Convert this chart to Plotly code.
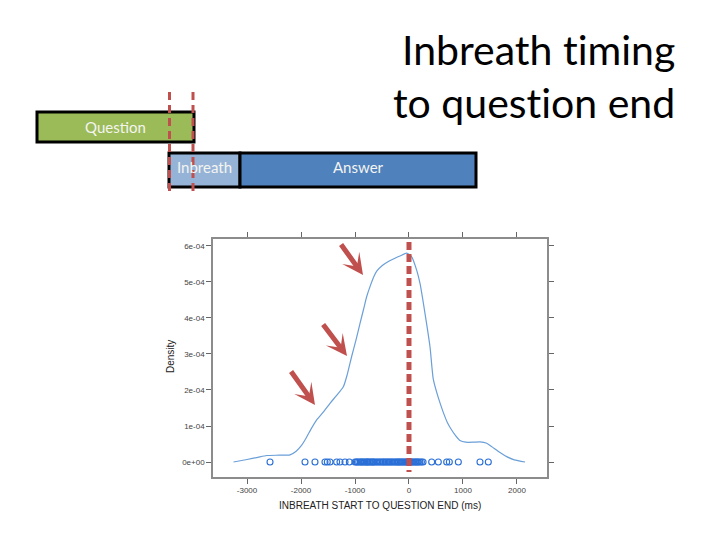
import plotly.graph_objects as go

# ---------------- data ----------------
density_x = [-3250, -3000, -2800, -2635, -2400, -2204, -2090, -1987, -1926, -1820,
             -1710, -1580, -1463, -1340, -1216, -1140, -1062, -980, -907, -840,
             -784, -722, -650, -598, -500, -413, -300, -167, -43, 50,
             142, 204, 296, 389, 450, 540, 630, 710, 790, 870,
             944, 1050, 1200, 1315, 1440, 1540, 1650, 1810, 1950, 2150]
density_y = [0.0, 0.07, 0.13, 0.18, 0.19, 0.20, 0.30, 0.47, 0.61, 0.90,
             1.17, 1.40, 1.63, 1.85, 2.09, 2.45, 2.93, 3.40, 3.85, 4.25,
             4.59, 4.87, 5.15, 5.30, 5.45, 5.54, 5.63, 5.72, 5.80, 5.70,
             5.33, 4.96, 4.13, 3.20, 2.30, 1.80, 1.40, 1.10, 0.89, 0.72,
             0.60, 0.55, 0.55, 0.56, 0.52, 0.42, 0.30, 0.15, 0.06, 0.0]  # x 1e-4

rug_x = [-2574, -1926, -1741, -1556, -1513, -1463, -1340, -1278, -1185, -1105,
         -1000, -975, -955, -930, -900, -885, -860, -840, -815, -790,
         -775, -760, -735, -715, -690, -670, -655, -630, -600, -575,
         -545, -520, -490, -470, -445, -420, -395, -370, -350, -320,
         -300, -270, -245, -225, -200, -185, -160, -140, -115, -95,
         -70, -50, -30, -10, 5, 20, 40, 60, 85, 110,
         130, 150, 175, 200, 230, 260, 420, 543, 698, 747,
         914, 1315, 1469]

x_tickvals = [-3000, -2000, -1000, 0, 1000, 2000]
x_ticktext = ["-3000", "-2000", "-1000", "0", "1000", "2000"]
y_tickvals = [0, 1e-4, 2e-4, 3e-4, 4e-4, 5e-4, 6e-4]
y_ticktext = ["0e+00", "1e-04", "2e-04", "3e-04", "4e-04", "5e-04", "6e-04"]

# page offset (body margin) and figure size
OFF = 8
W, H = 712, 524
def PX(v): return (v - OFF) / W
def PY(v): return 1 - (v - OFF) / H

RED = "#C0504D"

fig = go.Figure()
fig.add_trace(go.Scatter(
    x=density_x, y=[v * 1e-4 for v in density_y], mode="lines",
    line=dict(color="#6A9FD8", width=1.2, shape="spline", smoothing=0.6),
    hoverinfo="skip", showlegend=False))
fig.add_trace(go.Scatter(
    x=rug_x, y=[0] * len(rug_x), mode="markers",
    marker=dict(symbol="circle-open", size=6, color="#2A6FD6", line=dict(width=1.1)),
    hoverinfo="skip", showlegend=False))

axis_common = dict(showline=True, mirror="ticks", linecolor="#8C8C8C", linewidth=1.5,
                   ticks="outside", ticklen=5, tickcolor="#666", tickwidth=1,
                   showgrid=False, zeroline=False,
                   tickfont=dict(family="Liberation Sans, Arial", size=8, color="#444"))

fig.update_layout(
    width=W, height=H, margin=dict(l=0, r=0, t=0, b=0),
    paper_bgcolor="white", plot_bgcolor="white",
    xaxis=dict(domain=[PX(213), PX(547)], range=[-3630, 2556],
               tickvals=x_tickvals, ticktext=x_ticktext, **axis_common),
    yaxis=dict(domain=[PY(477), PY(239)], range=[-0.4167e-4, 6.194e-4],
               tickvals=y_tickvals, ticktext=y_ticktext, **axis_common),
)

shapes = []
# Diagram boxes
shapes.append(dict(type="rect", xref="paper", yref="paper",
                   x0=PX(37), x1=PX(194), y0=PY(142), y1=PY(112),
                   fillcolor="#9BBB59", line=dict(color="black", width=3)))
shapes.append(dict(type="rect", xref="paper", yref="paper",
                   x0=PX(169), x1=PX(240), y0=PY(187), y1=PY(153),
                   fillcolor="#95B3D7", line=dict(color="black", width=3)))
shapes.append(dict(type="rect", xref="paper", yref="paper",
                   x0=PX(240), x1=PX(476), y0=PY(187), y1=PY(153),
                   fillcolor="#4F81BD", line=dict(color="black", width=3)))
# Red dashed guides in the diagram
for xp in (169.5, 193):
    shapes.append(dict(type="line", xref="paper", yref="paper",
                       x0=PX(xp), x1=PX(xp), y0=PY(92), y1=PY(196),
                       line=dict(color=RED, width=3, dash="8px,5px")))
# Red dashed line at question end in the plot
shapes.append(dict(type="line", xref="x", yref="paper",
                   x0=0, x1=0, y0=PY(242), y1=PY(472),
                   line=dict(color=RED, width=5, dash="8px,4px")))
fig.update_layout(shapes=shapes)

ann = []
title_font = dict(family="Lato", size=41, color="black")
ann.append(dict(text="Inbreath t\u200ciming", xref="paper", yref="paper",
                x=PX(677), y=PY(50), xanchor="right", yanchor="middle",
                showarrow=False, font=title_font))
ann.append(dict(text="to quest\u200cion end", xref="paper", yref="paper",
                x=PX(677), y=PY(102), xanchor="right", yanchor="middle",
                showarrow=False, font=title_font))
box_font = dict(family="Lato", size=15, color="#F4F4F0")
for txt, bx, by in [("Question", 115, 127), ("Inbreath", 204, 167), ("Answer", 358, 167)]:
    ann.append(dict(text=txt, xref="paper", yref="paper", x=PX(bx), y=PY(by),
                    xanchor="center", yanchor="middle", showarrow=False, font=box_font))
# axis titles
ann.append(dict(text="Density", xref="paper", yref="paper", x=PX(170), y=PY(357),
                xanchor="center", yanchor="middle",
                textangle=-90, showarrow=False,
                font=dict(family="Liberation Sans, Arial", size=10, color="#222")))
ann.append(dict(text="INBREATH START TO QUESTION END (ms)", xref="paper", yref="paper",
                x=PX(380), y=PY(505), xanchor="center", yanchor="middle", showarrow=False,
                font=dict(family="Liberation Sans, Arial", size=10, color="#222")))
# arrows
for (tx, ty, sx, sy) in [(363, 275, 340, 243), (347, 356, 322, 323), (315, 405, 290, 370)]:
    ann.append(dict(text="", xref="paper", yref="paper", x=PX(tx), y=PY(ty),
                    ax=sx - tx, ay=sy - ty, showarrow=True, arrowhead=3,
                    arrowsize=0.7, arrowwidth=5, arrowcolor=RED))
fig.update_layout(annotations=ann)

fig.write_html("out.html")
